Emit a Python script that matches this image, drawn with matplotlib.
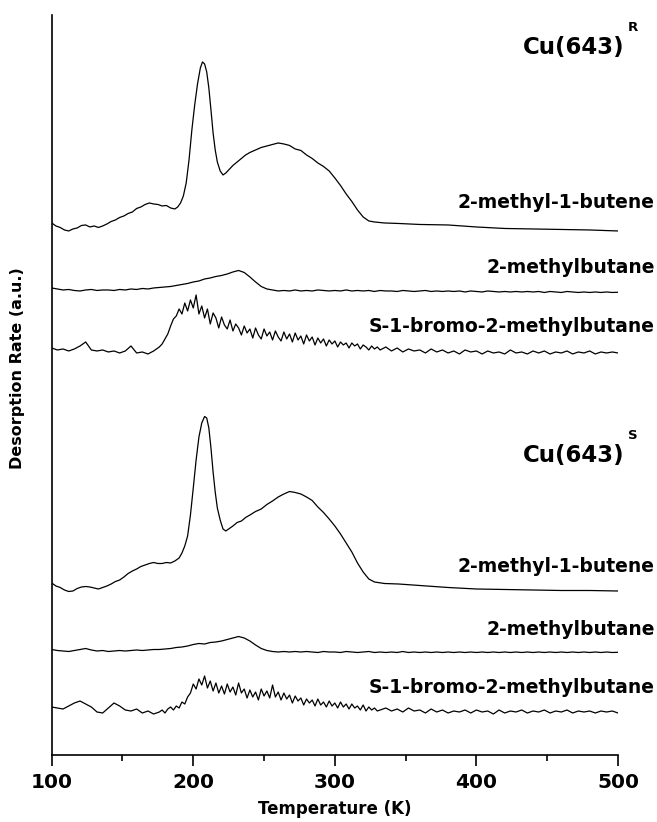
import numpy as np
import matplotlib
matplotlib.use('agg')
import matplotlib.pyplot as plt
from matplotlib.ticker import MultipleLocator

plt.rcParams['font.family'] = ['DejaVu Sans']
plt.rcParams['font.weight'] = 'bold'

# common temperature grid (K) for the 2-methylbutane traces
temp = np.arange(100, 501, 4)
# grid for the noisy bromide traces: denser where the signal is
temp_br = np.r_[100:176:4, 176:331:2, 332:501:4]

# Cu(643)^R, 2-methyl-1-butene (own grid, finer around the sharp peak)
temp_but_r = [100, 103, 106, 109, 112, 115, 118, 121, 124, 127,
              130, 133, 136, 139, 142, 145, 148, 151, 154, 157,
              160, 163, 166, 169, 172, 175, 178, 181, 184, 187,
              189, 191, 193, 195, 197, 199, 201, 203, 205, 206.5,
              208, 209.5, 211, 212.5, 214, 215.5, 217, 219, 221, 223,
              225, 228, 231, 234, 237, 240, 244, 248, 252, 256,
              260, 264, 268, 272, 276, 280, 284, 288, 292, 296,
              300, 304, 308, 312, 316, 320, 324, 328, 335, 345,
              360, 380, 400, 420, 440, 460, 480, 500]
but_r = [532, 529, 527.5, 525, 524, 526, 527, 529.5, 530, 528,
         529, 527.5, 529, 531, 533.5, 535, 537.5, 539, 541.5, 543,
         546.5, 548, 550.5, 552, 551, 550.5, 549, 549.5, 547, 546,
         548, 552, 559, 572, 595, 625, 650, 671, 687, 693,
         691, 683, 667, 645, 622, 605, 593, 584, 580, 582,
         585, 589.5, 593, 596.5, 600, 602.5, 605, 607.5, 609, 610.5,
         612, 611, 609.5, 606, 604.5, 600, 596.5, 592, 588.5, 584,
         577, 569.5, 561, 553.5, 545, 538, 534, 533, 532, 531.5,
         530.5, 530, 528, 526.5, 526, 525.5, 525, 524]

# Cu(643)^R, 2-methylbutane
mb_r = [467, 466, 465, 465.5, 464.5, 464, 465, 465.5, 464.5, 465,
        465, 464.5, 465.5, 465, 466, 465.5, 466.5, 466, 467, 467.5,
        468, 468.5, 469.5, 470.5, 471.5, 473, 474, 476, 477, 478.5,
        479.5, 481, 483, 484.5, 482.5, 478, 473, 468.5, 466, 465,
        464, 464.5, 464, 465, 464, 464.5, 464, 465, 464.5, 464,
        464.5, 464, 465, 464, 464.5, 464, 464.5, 463.5, 464.5, 464,
        464, 463.5, 464.5, 464, 463.5, 464, 464.5, 463.5, 464, 463.5,
        464, 463.5, 464, 463, 464, 463.5, 463, 464, 463.5, 463,
        463.5, 463, 463.5, 463, 463.5, 463, 463.5, 462.5, 463.5, 463,
        462.5, 463.5, 463, 462.5, 463, 462.5, 463, 462.5, 463, 462.5,
        462.7]

# Cu(643)^R, S-1-bromo-2-methylbutane (on temp_br)
br_r = [407, 405, 406, 404, 406, 409, 413, 405, 404, 405,          # 100-136
        403, 404, 402, 404, 409, 402, 403, 401, 404,               # 140-172
        408, 411, 416, 421, 429, 436, 439, 446, 441, 452,          # 176-194
        444, 455, 447, 460, 441, 449, 437, 446, 431, 442,          # 196-214
        437, 427, 438, 430, 426, 435, 424, 431, 427, 420,          # 216-234
        429, 422, 426, 417, 427, 420, 416, 426, 419, 423,          # 236-254
        415, 424, 418, 414, 423, 416, 421, 413, 422, 415,          # 256-274
        419, 411, 420, 414, 418, 410, 417, 412, 416, 409,          # 276-294
        415, 411, 414, 408, 413, 410, 412, 407, 412, 409,          # 296-314
        411, 406, 410, 408, 405, 409, 406, 408,                    # 316-330
        405, 408, 404, 407, 403, 406, 404, 405, 402, 406,          # 332-368
        403, 405, 402, 404, 401, 405, 403, 404, 401, 404,
        402, 403, 401, 405, 402, 403, 401, 404, 402, 404,
        401, 403, 402, 404, 401, 403, 402, 404, 401, 403,
        402, 403, 402]

# Cu(643)^S, 2-methyl-1-butene
temp_but_s = [100, 103, 106, 109, 112, 115, 118, 121, 124, 127,
              130, 133, 136, 139, 142, 145, 148, 151, 154, 157,
              160, 163, 166, 169, 172, 175, 178, 181, 184, 187,
              190, 192, 194, 196, 198, 200, 202, 204, 206, 208,
              209.5, 211, 212.5, 214, 215.5, 217, 219, 221, 223, 225,
              228, 231, 234, 237, 240, 244, 248, 252, 256, 260,
              264, 268, 272, 276, 280, 284, 288, 292, 296, 300,
              304, 308, 312, 316, 320, 324, 328, 335, 345, 360,
              380, 400, 420, 440, 460, 480, 500]
but_s = [172, 169, 167.5, 165, 163.5, 164, 166.5, 168, 168.5, 168,
         167, 166, 167.5, 169, 171, 173.5, 175, 178, 181.5, 184,
         186, 188.5, 190, 191.5, 192.5, 191.5, 191.5, 192.5, 192, 194,
         197, 202, 209, 219, 240, 267, 295, 318, 332, 338.5,
         337, 327, 307, 283, 263, 247, 235, 226, 224, 226,
         229, 232.5, 234, 237.5, 240, 243.5, 246, 250.5, 254, 258,
         261, 263.5, 262.5, 261, 258, 254.5, 248, 242.5, 236, 229,
         221, 212, 203, 192, 183, 176, 173, 171.5, 171, 169.5,
         167.5, 166, 165.5, 165, 164.5, 164.5, 164]

# Cu(643)^S, 2-methylbutane
mb_s = [105.5, 104.5, 104, 103.5, 104.5, 105.5, 106.5, 105, 104, 104.5,
        103.5, 104, 104.5, 104, 104.5, 105, 104.5, 105, 105.5, 105.5,
        106, 106.5, 107.5, 108, 109, 110.5, 111.5, 111, 112.5, 113,
        114, 115.5, 117, 118.5, 117, 114, 110, 106.5, 104.5, 103.5,
        103, 103.5, 103, 103.5, 103, 103.5, 103, 102.5, 103.5, 103,
        103, 102.5, 103.5, 103, 102.5, 103, 103.5, 102.5, 103, 102.5,
        103, 102.5, 103.5, 102.5, 103, 102.5, 103, 102.5, 103, 102.5,
        103, 102.5, 103, 102.5, 103, 102.5, 103, 102.5, 103, 102.5,
        103, 102.5, 103, 102.5, 103, 102.5, 103, 102.5, 103, 102.5,
        103, 102.5, 103, 102.5, 103, 102.5, 103, 102.5, 103, 102.5,
        102.7]

# Cu(643)^S, S-1-bromo-2-methylbutane (on temp_br)
br_s = [48, 47, 46, 49, 52, 54, 51, 48, 43, 42,                    # 100-136
        47, 52, 49, 45, 44, 46, 42, 44, 41,                        # 140-172
        43, 45, 42, 46, 48, 45, 49, 47, 53, 51,                    # 176-194
        58, 62, 71, 66, 76, 70, 79, 67, 74, 64,                    # 196-214
        72, 62, 69, 61, 71, 63, 68, 60, 72, 62,                    # 216-234
        66, 57, 65, 58, 63, 55, 66, 59, 64, 57,                    # 236-254
        70, 58, 63, 55, 62, 56, 60, 52, 59, 54,                    # 256-274
        57, 50, 56, 52, 55, 49, 56, 50, 53, 48,                    # 276-294
        54, 49, 52, 47, 53, 48, 51, 46, 51, 47,                    # 296-314
        49, 45, 50, 44, 48, 45, 47, 44,                            # 316-330
        45, 47, 44, 46, 43, 47, 44, 45, 42, 46,                    # 332-368
        43, 45, 42, 44, 43, 45, 42, 45, 43, 44,
        41, 45, 42, 44, 43, 45, 42, 44, 43, 45,
        42, 44, 43, 45, 42, 44, 43, 44, 42, 44,
        43, 44, 42]

trace_names = ['2-methyl-1-butene', '2-methylbutane', 'S-1-bromo-2-methylbutane']

fig = plt.figure(figsize=(6.57, 8.22), dpi=100)
ax = fig.add_axes([0.0787, 0.0815, 0.8619, 0.9003])

for x, y in [(temp_but_r, but_r), (temp, mb_r), (temp_br, br_r),
             (temp_but_s, but_s), (temp, mb_s), (temp_br, br_s)]:
    ax.plot(x, y, color='black', lw=0.9)

ax.set_xlim(100, 500)
ax.set_ylim(0, 740)

# trace labels, right aligned past the end of the axis
label_y = [546.7, 481.7, 423.3, 183.3, 120, 61.7]
for i, ly in enumerate(label_y):
    ax.text(526, ly, trace_names[i % 3], ha='right', va='baseline',
            fontsize=13.5, fontweight='bold', clip_on=False)

ax.text(504.9, 701, 'Cu(643)', ha='right', va='baseline', fontsize=16.5,
        fontweight='bold', clip_on=False)
ax.text(507.0, 724, 'R', ha='left', va='baseline', fontsize=9.5, clip_on=False)
ax.text(504.9, 293.3, 'Cu(643)', ha='right', va='baseline', fontsize=16.5,
        fontweight='bold', clip_on=False)
ax.text(507.0, 316, 'S', ha='left', va='baseline', fontsize=9.5, clip_on=False)

for s in ['top', 'right']:
    ax.spines[s].set_visible(False)
for s in ['left', 'bottom']:
    ax.spines[s].set_linewidth(1.2)
ax.set_yticks([])
ax.xaxis.set_major_locator(MultipleLocator(100))
ax.xaxis.set_minor_locator(MultipleLocator(50))
ax.tick_params(axis='x', which='major', direction='out', length=8, width=1.2,
               labelsize=14.5, pad=5)
ax.tick_params(axis='x', which='minor', direction='out', length=4.5, width=1.2)
for lab in ax.get_xticklabels():
    lab.set_fontweight('bold')

ax.set_xlabel('Temperature (K)', fontsize=12, fontweight='bold', labelpad=6)
fig.text(18 / 657, 1 - 368 / 822, 'Desorption Rate (a.u.)', rotation=90,
         ha='center', va='center', fontsize=11.5, fontweight='bold')

fig.savefig('out.png', dpi=100)
